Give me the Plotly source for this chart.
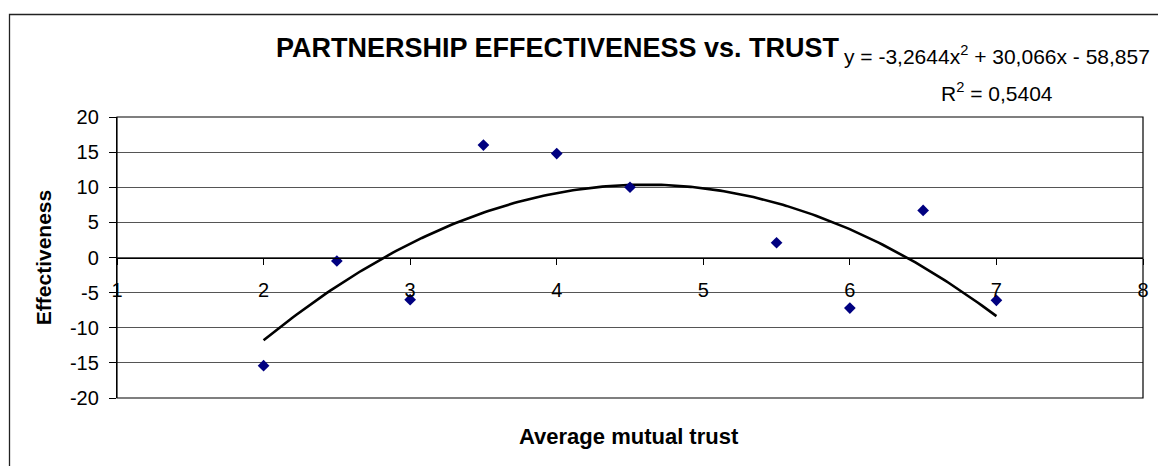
import numpy as np
import plotly.graph_objects as go

# ---- data ----
trust = [2, 2.5, 3, 3.5, 4, 4.5, 5.5, 6, 6.5, 7]
effectiveness = [-15.4, -0.5, -6.0, 16.0, 14.8, 10.0, 2.1, -7.2, 6.7, -6.1]
trend_coeffs = [-3.2644, 30.066, -58.857]   # polynomial trendline shown on the chart (a, b, c)
trend_r2 = "0,5404"
x_ticks = [1, 2, 3, 4, 5, 6, 7, 8]
y_ticks = [-20, -15, -10, -5, 0, 5, 10, 15, 20]

title_text = "PARTNERSHIP EFFECTIVENESS vs. TRUST"
x_title = "Average mutual trust"
y_title = "Effectiveness"
eq_text = "y = -3,2644x<sup>2</sup> + 30,066x - 58,857"
r2_text = "R<sup>2</sup> = " + trend_r2

# ---- layout geometry ----
W, H = 1158, 466
L, R, T, B = 117, 15, 117, 68
PW, PH = W - L - R, H - T - B


def px_x(p):
    return (p - L) / PW


def px_y(p):
    return (H - B - p) / PH


FONT = "Liberation Sans, Arial, sans-serif"

tx = np.linspace(min(trust), max(trust), 200)
ty = np.polyval(trend_coeffs, tx)

fig = go.Figure()
fig.add_trace(go.Scatter(
    x=tx, y=ty, mode="lines",
    line=dict(color="black", width=2.6),
    hoverinfo="skip", showlegend=False,
))
fig.add_trace(go.Scatter(
    x=trust, y=effectiveness, mode="markers",
    marker=dict(symbol="diamond", size=9, color="#000080", line=dict(width=0)),
    showlegend=False,
))

fig.update_layout(
    width=W, height=H,
    margin=dict(l=L, r=R, t=T, b=B, pad=0, autoexpand=False),
    paper_bgcolor="white", plot_bgcolor="white",
    font=dict(family=FONT, size=20, color="black"),
    title=dict(
        text="<b>" + title_text + "</b>",
        font=dict(family=FONT, size=27, color="black"),
        xref="container", yref="container",
        x=557.5 / W, y=1 - 47.8 / H, xanchor="center", yanchor="middle",
    ),
    xaxis=dict(
        range=[1, 8], tickvals=x_ticks, ticktext=[str(v) for v in x_ticks],
        anchor="free", position=0.5, automargin=False,
        showgrid=False, zeroline=False,
        showline=True, linecolor="black", linewidth=1.2,
        ticks="outside", ticklen=6, tickcolor="black", tickwidth=1.2,
        ticklabelstandoff=8,
        tickfont=dict(family=FONT, size=20, color="black"),
    ),
    yaxis=dict(
        range=[-20, 20], tickvals=y_ticks, ticktext=[str(v) for v in y_ticks],
        automargin=False,
        showgrid=True, gridcolor="#555555", gridwidth=1.2,
        zeroline=False,
        showline=True, linecolor="black", linewidth=1.3,
        ticks="outside", ticklen=7, tickcolor="black", tickwidth=1.2,
        ticklabelstandoff=6,
        tickfont=dict(family=FONT, size=20, color="black"),
        title=dict(text="<b>" + y_title + "</b>", standoff=12,
                   font=dict(family=FONT, size=21, color="black")),
    ),
    shapes=[
        # plot-area frame
        dict(type="rect", xref="paper", yref="paper", x0=0, x1=1, y0=0, y1=1,
             line=dict(color="black", width=1.2), layer="above"),
        # chart-area border (right and bottom edges lie outside the picture)
        dict(type="rect", xref="paper", yref="paper",
             x0=px_x(9.5), x1=px_x(1175), y0=px_y(490), y1=px_y(14.5),
             line=dict(color="#222222", width=1.3)),
    ],
    annotations=[
        dict(text="<b>" + x_title + "</b>", xref="paper", yref="paper",
             x=px_x(629), y=px_y(436), xanchor="center", yanchor="middle",
             showarrow=False, font=dict(family=FONT, size=22, color="black")),
        dict(text=eq_text, xref="paper", yref="paper",
             x=px_x(997), y=px_y(55), xanchor="center", yanchor="middle",
             showarrow=False, font=dict(family=FONT, size=21, color="black")),
        dict(text=r2_text, xref="paper", yref="paper",
             x=px_x(997), y=px_y(92), xanchor="center", yanchor="middle",
             showarrow=False, font=dict(family=FONT, size=21, color="black")),
    ],
)

# remove the browser's default 8px page margin so the figure starts at (0, 0)
fig.write_html("out.html", config={"displayModeBar": False},
               post_script="document.body.style.margin='0';")
